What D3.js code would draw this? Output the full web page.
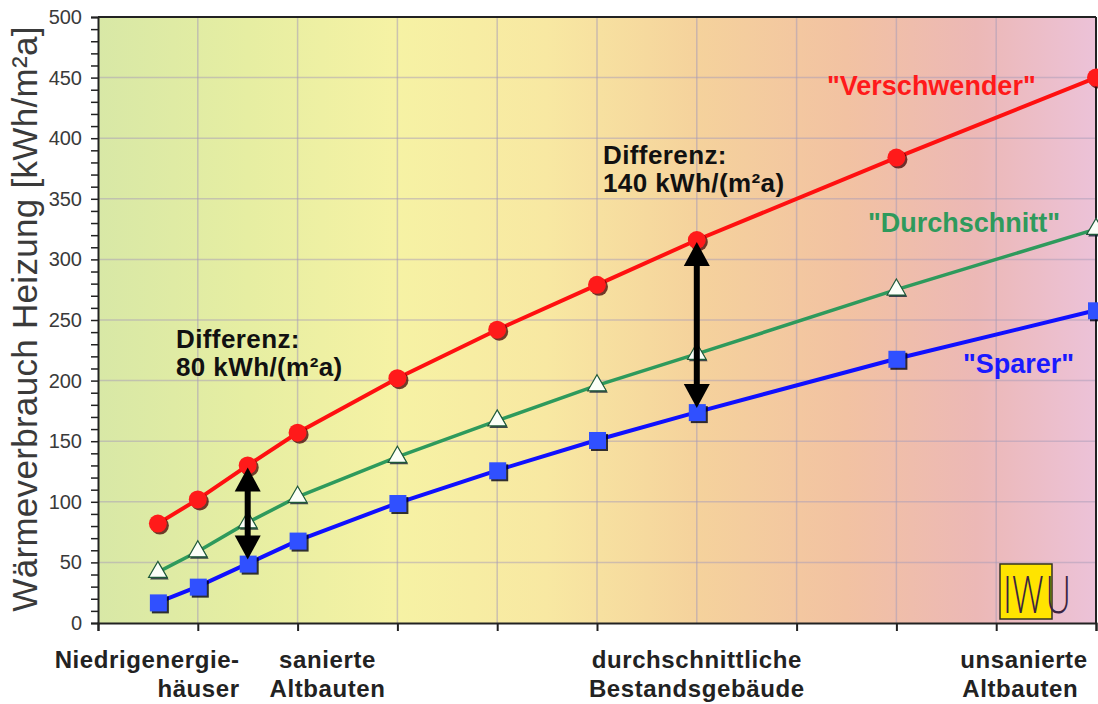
<!DOCTYPE html>
<html><head><meta charset="utf-8">
<script src="https://cdn.jsdelivr.net/npm/d3@7"></script>
<style>body{margin:0;background:#fff}svg{display:block}</style>
</head><body>
<script>
// ---- data ----
const xVals = [30, 50, 75, 100, 150, 200, 250, 300, 400, 500];
const verschwender = [82, 102, 130, 157, 202, 242, 279, 316, 384, 450];
const durchschnitt = [42, 59, 83, 104, 137, 167, 196, 222, 275, 325];
const sparer = [17, 30, 49, 68, 99, 126, 151, 174, 218, 258];
const seriesNames = ['"Verschwender"', '"Durchschnitt"', '"Sparer"'];
const yTicks = [0, 50, 100, 150, 200, 250, 300, 350, 400, 450, 500];
const xTicks = [0, 50, 100, 150, 200, 250, 350, 400, 450, 500];
const xGrid = [50, 100, 150, 200, 250, 300, 350, 400, 450];
const categoryLabels = [["Niedrigenergie-", "häuser"], ["sanierte", "Altbauten"], ["durchschnittliche", "Bestandsgebäude"], ["unsanierte", "Altbauten"]];
const categoryAt = [71, 115, 300, 432];
const diffAt = [75, 300];
const diffLabels = [["Differenz:", "80 kWh/(m²a)"], ["Differenz:", "140 kWh/(m²a)"]];
const yTitle = "Wärmeverbrauch Heizung [kWh/m²a]";
const logoText = ["IW", "U"];

const W = 1098, H = 704;
const m = {left: 98, right: 1096, top: 17, bottom: 623};
const svg = d3.select("body").append("svg").attr("width", W).attr("height", H)
  .style("font-family", "Arial, 'Liberation Sans', sans-serif");

const x = d3.scaleLinear().domain([0, 500]).range([m.left, m.right]);
const y = d3.scaleLinear().domain([0, 500]).range([m.bottom, m.top]);

// background gradient
const defs = svg.append("defs");
const g1 = defs.append("linearGradient").attr("id", "bg").attr("x1", 0).attr("x2", 1).attr("y1", 0).attr("y2", 0);
[[0, "#d8e8a6"], [0.15, "#e6eea2"], [0.3, "#f6f2a4"], [0.45, "#f8e8a2"], [0.6, "#f5d29c"], [0.75, "#f2c2a2"], [0.88, "#ecb8b6"], [1, "#ecc2d8"]]
  .forEach(([o, c]) => g1.append("stop").attr("offset", o).attr("stop-color", c));
svg.append("rect").attr("x", m.left).attr("y", m.top).attr("width", m.right - m.left).attr("height", m.bottom - m.top)
  .attr("fill", "url(#bg)");

// grid
svg.append("g").selectAll("line").data(xGrid).join("line")
  .attr("x1", d => x(d)).attr("x2", d => x(d)).attr("y1", m.top).attr("y2", m.bottom)
  .attr("stroke", "#a89cb8").attr("stroke-opacity", 0.55).attr("stroke-width", 1.5);
svg.append("g").selectAll("line").data(yTicks.slice(1, -1)).join("line")
  .attr("x1", m.left).attr("x2", m.right).attr("y1", d => y(d)).attr("y2", d => y(d))
  .attr("stroke", "#a89cb8").attr("stroke-opacity", 0.5).attr("stroke-width", 1.5);

// frame top/right
svg.append("line").attr("x1", m.left).attr("x2", m.right).attr("y1", m.top).attr("y2", m.top).attr("stroke", "#222").attr("stroke-width", 2);
svg.append("line").attr("x1", m.right).attr("x2", m.right).attr("y1", m.top).attr("y2", m.bottom).attr("stroke", "#222").attr("stroke-width", 2);

// y axis
const yAxis = d3.axisLeft(y).tickValues(d3.range(0, 501, 10)).tickSize(7)
  .tickFormat(d => yTicks.includes(d) ? d : "");
const ya = svg.append("g").attr("transform", `translate(${m.left},0)`).call(yAxis);
ya.select(".domain").attr("stroke", "#222").attr("stroke-width", 2);
ya.selectAll(".tick line").attr("stroke", "#222").attr("stroke-width", 1.5);
ya.selectAll(".tick text").attr("font-size", 20).attr("fill", "#3a3a3a").attr("x", -16)
  .style("font-family", "Arial, 'Liberation Sans', sans-serif");

// x axis
const xAxis = d3.axisBottom(x).tickValues(xTicks).tickSize(8).tickFormat("");
const xa = svg.append("g").attr("transform", `translate(0,${m.bottom})`).call(xAxis);
xa.select(".domain").attr("stroke", "#222").attr("stroke-width", 2);
xa.selectAll(".tick line").attr("stroke", "#222").attr("stroke-width", 2);

// y title
svg.append("text").attr("transform", `translate(37,319) rotate(-90)`).attr("text-anchor", "middle")
  .attr("font-size", 35).attr("fill", "#3a3a3a").attr("letter-spacing", 0.3).text(yTitle);

// category labels
const catAnchor = ["end", "middle", "middle", "start"];
categoryLabels.forEach((lines, i) => {
  const t = svg.append("text").attr("font-size", 24).attr("font-weight", "bold").attr("fill", "#222")
    .attr("letter-spacing", 0.6).attr("text-anchor", catAnchor[i]);
  lines.forEach((ln, j) => {
    let xx = x(categoryAt[i]);
    if (i === 3) xx += (j === 0 ? 0 : 2);
    t.append("tspan").attr("x", xx).attr("y", 668 + j * 29).text(ln);
  });
});

// lines
const colors = ["#ff1010", "#2e9a5c", "#1010ff"];
const allSeries = [verschwender, durchschnitt, sparer];
const line = d3.line().x((d, i) => x(xVals[i])).y(d => y(d));
allSeries.forEach((s, k) => {
  svg.append("path").datum(s).attr("d", line).attr("fill", "none")
    .attr("stroke", colors[k]).attr("stroke-width", k === 1 ? 3.5 : 4);
});

// markers
const mk = svg.append("g");
verschwender.forEach((v, i) => {
  mk.append("circle").attr("cx", x(xVals[i]) + 2).attr("cy", y(v) + 2).attr("r", 9).attr("fill", "#400").attr("opacity", 0.75);
  mk.append("circle").attr("cx", x(xVals[i])).attr("cy", y(v)).attr("r", 9).attr("fill", "#ff1a1a");
});
const tri = d3.symbol().type(d3.symbolTriangle).size(150);
durchschnitt.forEach((v, i) => {
  mk.append("path").attr("d", tri()).attr("transform", `translate(${x(xVals[i]) + 1.5},${y(v) + 2})`).attr("fill", "#123").attr("opacity", 0.8);
  mk.append("path").attr("d", tri()).attr("transform", `translate(${x(xVals[i])},${y(v)})`)
    .attr("fill", "#fbfff8").attr("stroke", "#1e5a3a").attr("stroke-width", 1.2);
});
sparer.forEach((v, i) => {
  mk.append("rect").attr("x", x(xVals[i]) - 8 + 2).attr("y", y(v) - 8 + 2).attr("width", 17).attr("height", 17).attr("fill", "#001").attr("opacity", 0.8);
  mk.append("rect").attr("x", x(xVals[i]) - 8).attr("y", y(v) - 8).attr("width", 17).attr("height", 17).attr("fill", "#3050ff");
});

// arrows
diffAt.forEach(xv => {
  const i = xVals.indexOf(xv);
  const xp = x(xv), top = y(verschwender[i]) + 2, bot = y(sparer[i]) - 4;
  const hl = 24, hw = 13;
  svg.append("line").attr("x1", xp).attr("x2", xp).attr("y1", top + hl - 2).attr("y2", bot - hl + 2)
    .attr("stroke", "#000").attr("stroke-width", 6);
  svg.append("path").attr("d", `M${xp},${top} L${xp - hw},${top + hl} L${xp + hw},${top + hl} Z`).attr("fill", "#000");
  svg.append("path").attr("d", `M${xp},${bot} L${xp - hw},${bot - hl} L${xp + hw},${bot - hl} Z`).attr("fill", "#000");
});

// difference labels
const diffPos = [[176, 348], [603, 164]];
diffLabels.forEach((lines, i) => {
  const t = svg.append("text").attr("font-size", 26).attr("font-weight", "bold").attr("fill", "#111").attr("letter-spacing", 0.4);
  lines.forEach((ln, j) => t.append("tspan").attr("x", diffPos[i][0]).attr("y", diffPos[i][1] + j * 28).text(ln));
});

// series labels
const serPos = [[827, 95], [868, 232], [963, 373]];
const serColors = ["#ff1a1a", "#2e9a5c", "#1a1aff"];
seriesNames.forEach((n, i) => {
  svg.append("text").attr("x", serPos[i][0]).attr("y", serPos[i][1]).attr("font-size", 27).attr("font-weight", "bold")
    .attr("fill", serColors[i]).text(n);
});

// IWU logo
svg.append("rect").attr("x", 1000).attr("y", 564).attr("width", 52).attr("height", 55).attr("fill", "#ffe400").attr("stroke", "#332").attr("stroke-width", 1.5);
const logo = svg.append("text").attr("transform", "translate(1003,613) scale(0.68,1)")
  .attr("font-size", 52).attr("font-weight", 300).attr("fill", "#3a2440")
  .style("font-family", "'Open Sans', Arial, sans-serif");
logo.append("tspan").text(logoText[0]);
logo.append("tspan").attr("dx", 3).text(logoText[1]);
</script>
</body></html>
